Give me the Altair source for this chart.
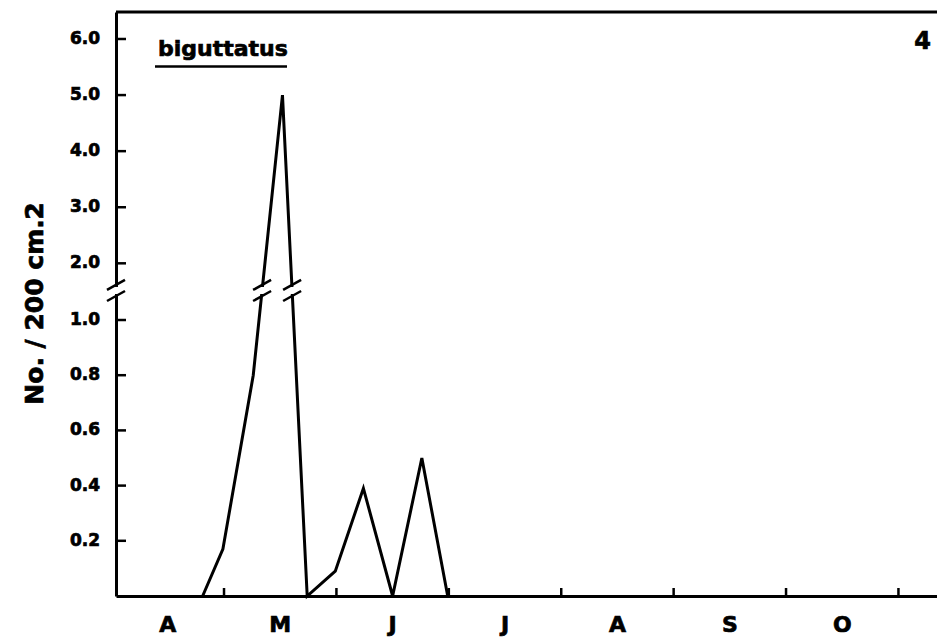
import altair as alt
import pandas as pd

# ---------------- data ----------------
month_labels = ["A", "M", "J", "J", "A", "S", "O"]
month_centers = [0.5, 1.5, 2.5, 3.5, 4.5, 5.5, 6.5]       # mid-month positions
month_bounds = [1, 2, 3, 4, 5, 6, 7]                        # month boundary ticks
sample_month = [0.81, 0.99, 1.26, 1.52, 1.74, 1.99, 2.24, 2.50, 2.76, 2.99]
density = [0.0, 0.17, 0.80, 5.0, 0.0, 0.09, 0.39, 0.0, 0.50, 0.0]
y_ticks_low = [0.2, 0.4, 0.6, 0.8, 1.0]
y_ticks_high = [2.0, 3.0, 4.0, 5.0, 6.0]
y_tick_labels = ["0.2", "0.4", "0.6", "0.8", "1.0", "2.0", "3.0", "4.0", "5.0", "6.0"]
species = "biguttatus"
panel = "4"
y_title = "No. / 200 cm."
y_title_sup = "2"

# ---------------- layout / broken axis ----------------
W, H = 821, 584
FONT = "DejaVu Sans"
HEAVY = 0.7           # extra stroke to imitate the heavy grotesque type
LO_MAX = 1.1          # values up to here drawn on the lower (expanded) segment
HI_BASE = 1.2054      # axis position of 2.0 on the upper segment
HI_SLOPE = 0.2032     # axis units per count on the upper segment
GAP_LO, GAP_HI = 1.087, 1.127   # axis positions of the two break strokes
PX_X = W / 7.304      # pixels per month
PX_Y = H / 2.116      # pixels per axis unit


def to_axis(v):
    return v if v <= LO_MAX else HI_BASE + HI_SLOPE * (v - 2.0)


expr = f"datum.v <= {LO_MAX} ? datum.v : {HI_BASE} + {HI_SLOPE} * (datum.v - 2)"

x_scale = alt.Scale(domain=[0.039, 7.343], nice=False, zero=False)
y_scale = alt.Scale(domain=[0, 2.116], nice=False, zero=False)

x_axis = alt.Axis(
    labels=False, ticks=False, tickSize=0, grid=False, domainColor="black",
    domainWidth=3, title="", zindex=0,
)
y_axis = alt.Axis(
    labels=False, ticks=False, tickSize=0, grid=False, domainColor="black",
    domainWidth=3, title="", zindex=0,
)

series = pd.DataFrame({"m": sample_month, "v": density})

line = alt.Chart(series).transform_calculate(d=expr).mark_line(
    color="black", strokeWidth=3, strokeJoin="miter"
).encode(
    x=alt.X("m:Q", scale=x_scale, axis=x_axis),
    y=alt.Y("d:Q", scale=y_scale, axis=y_axis),
)

ytick_df = pd.DataFrame({"v": y_ticks_low + y_ticks_high, "lab": y_tick_labels})

# inward y ticks
ytick = alt.Chart(ytick_df).transform_calculate(d=expr).mark_rule(
    color="black", strokeWidth=2.5
).encode(
    y=alt.Y("d:Q", scale=y_scale, axis=y_axis), x=alt.value(0), x2=alt.value(10)
)
ylab = alt.Chart(ytick_df).transform_calculate(d=expr).mark_text(
    font=FONT, fontSize=17, fontWeight="bold", color="black", stroke="black",
    strokeWidth=HEAVY, align="right", baseline="middle",
).encode(
    y=alt.Y("d:Q", scale=y_scale, axis=y_axis), x=alt.value(-16), text="lab:N"
)

# inward x ticks at month boundaries and month letters
xtick = alt.Chart(pd.DataFrame({"m": month_bounds})).mark_rule(
    color="black", strokeWidth=2.5
).encode(
    x=alt.X("m:Q", scale=x_scale, axis=x_axis), y=alt.value(H), y2=alt.value(H - 8)
)
xlab = alt.Chart(pd.DataFrame({"m": month_centers, "lab": month_labels})).mark_text(
    font=FONT, fontSize=22, fontWeight="bold", color="black", stroke="black",
    strokeWidth=HEAVY, align="center", baseline="alphabetic",
).encode(
    x=alt.X("m:Q", scale=x_scale, axis=x_axis), y=alt.value(H + 36), text="lab:N"
)

# top frame line
top = alt.Chart(pd.DataFrame({"a": [0]})).mark_rule(color="black", strokeWidth=3).encode(
    x=alt.value(0), x2=alt.value(W), y=alt.value(0)
)

# where the broken axis / curve crosses the gap
gap_mid = (GAP_LO + GAP_HI) / 2
cross = [0.039]
d_vals = [to_axis(v) for v in density]
for i in range(len(d_vals) - 1):
    a, b = d_vals[i], d_vals[i + 1]
    if (a - gap_mid) * (b - gap_mid) < 0:
        t = (gap_mid - a) / (b - a)
        cross.append(sample_month[i] + t * (sample_month[i + 1] - sample_month[i]))

dx = 9 / PX_X
dy = 5 / PX_Y
gap_rows = [{"m0": c - 7 / PX_X, "m1": c + 7 / PX_X,
             "d0": GAP_LO + 2 / PX_Y, "d1": GAP_HI - 2 / PX_Y} for c in cross]
slash_rows = []
for c in cross:
    for g in (GAP_LO, GAP_HI):
        slash_rows.append({"m0": c - dx, "m1": c + dx, "d0": g - dy, "d1": g + dy})

gap = alt.Chart(pd.DataFrame(gap_rows)).mark_rect(color="white").encode(
    x=alt.X("m0:Q", scale=x_scale, axis=x_axis), x2="m1:Q",
    y=alt.Y("d0:Q", scale=y_scale, axis=y_axis), y2="d1:Q",
)
slashes = alt.Chart(pd.DataFrame(slash_rows)).mark_rule(color="black", strokeWidth=2.5).encode(
    x=alt.X("m0:Q", scale=x_scale, axis=x_axis), x2="m1:Q",
    y=alt.Y("d0:Q", scale=y_scale, axis=y_axis), y2="d1:Q",
)


def text(txt, x, y, size, align="left", angle=0):
    return alt.Chart(pd.DataFrame({"a": [0]})).mark_text(
        text=txt, font=FONT, fontSize=size, fontWeight="bold", color="black",
        stroke="black", strokeWidth=HEAVY,
        align=align, baseline="alphabetic", angle=angle,
    ).encode(x=alt.value(x), y=alt.value(y))


title = text(y_title, -73, 300, 25, align="center", angle=270)
title_sup = text(y_title_sup, -73, 199, 25, align="center", angle=270)
name = text(species, 42, 44, 22)
underline = alt.Chart(pd.DataFrame({"a": [0]})).mark_rule(color="black", strokeWidth=2.5).encode(
    x=alt.value(39), x2=alt.value(171), y=alt.value(54.5)
)
num = text(panel, 815, 37, 24, align="right")

chart = alt.layer(
    line, ytick, ylab, xtick, xlab, top, gap, slashes,
    title, title_sup, name, underline, num
).properties(
    width=W, height=H,
    padding={"left": 108, "top": 4, "right": 0, "bottom": 46},
    autosize=alt.AutoSizeParams(type="none"),
).configure_view(stroke="transparent").configure(background="white")

chart.save("out.html", embed_options={"renderer": "svg", "actions": False})
